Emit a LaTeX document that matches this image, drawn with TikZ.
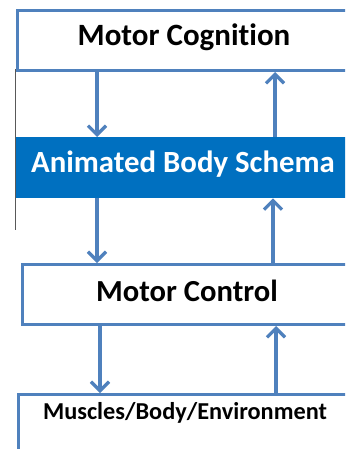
\documentclass[tikz,border=0pt]{standalone}
\usepackage{fontspec}
\setmainfont{Carlito}[RawFeature=-liga]
\usetikzlibrary{arrows.meta}
\definecolor{edgeblue}{HTML}{4F81BD}
\definecolor{bandblue}{HTML}{0070C0}
\begin{document}
\begin{tikzpicture}[x=1pt,y=-1pt,
  box/.style={draw=edgeblue, line width=3pt, fill=white, rectangle, inner sep=0pt, anchor=north west},
  band/.style={fill=bandblue, draw=none, rectangle, inner sep=0pt, anchor=north west, text=white},
  arr/.style={draw=edgeblue, line width=3.2pt, -{Straight Barb[length=9pt,width=18pt,line width=3.2pt]}},
  lbl/.style={font=\bfseries, inner sep=0pt}]
\useasboundingbox (0,0) rectangle (345,449);
\clip (0,0) rectangle (345,449);
\fill[white] (0,0) rectangle (345,449);
% left thin gray line
\coordinate (g1) at (15.5,69);
\coordinate (g2) at (15.5,230);
\draw[gray!70!black, line width=1pt] (g1) -- (g2);
% boxes
\node[box, minimum width=336pt, minimum height=60pt] (cog) at (16,9) {};
\node[lbl, font=\bfseries\fontsize{31}{32}\selectfont] (cogt) at (184,37) {Motor Cognition};
\node[band, minimum width=334pt, minimum height=61pt] (abs) at (16,137) {};
\node[lbl, text=white, font=\bfseries\fontsize{30.8}{32}\selectfont] (abst) at (183,164) {Animated Body Schema};
\node[box, minimum width=333pt, minimum height=60pt] (ctl) at (21,263) {};
\node[lbl, font=\bfseries\fontsize{30.6}{32}\selectfont] (ctlt) at (187,291) {Motor Control};
\node[box, minimum width=336pt, minimum height=80pt] (mus) at (17,393) {};
\node[lbl, font=\bfseries\fontsize{24.3}{26}\selectfont] (must) at (185,413) {Muscles/Body/Environment};
% arrow columns
\coordinate (d1) at (97,0);
\coordinate (u1) at (275,0);
\coordinate (d2) at (97,0);
\coordinate (u2) at (273,0);
\coordinate (d3) at (100,0);
\coordinate (u3) at (276,0);
\draw[arr] (cog.south -| d1) -- (abs.north -| d1);
\draw[arr] (abs.north -| u1) -- (cog.south -| u1);
\draw[arr] (abs.south -| d2) -- (ctl.north -| d2);
\draw[arr] (ctl.north -| u2) -- (abs.south -| u2);
\draw[arr] (ctl.south -| d3) -- (mus.north -| d3);
\draw[arr] (mus.north -| u3) -- (ctl.south -| u3);
\end{tikzpicture}
\end{document}
